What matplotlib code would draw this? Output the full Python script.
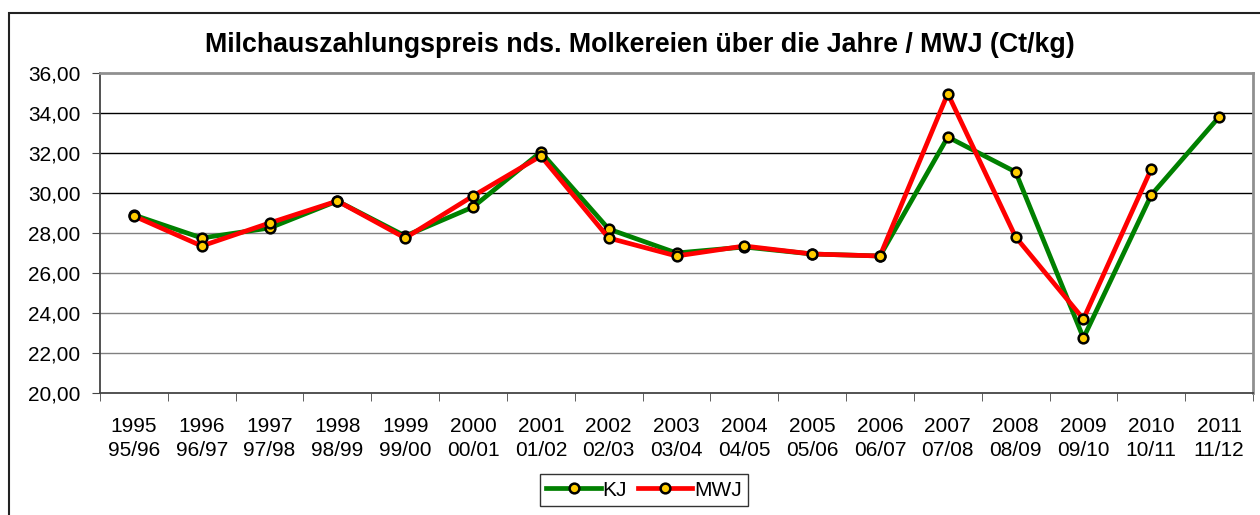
import matplotlib.pyplot as plt
import numpy as np
from matplotlib.patches import Rectangle

plt.rcParams['font.family'] = ['Liberation Sans', 'DejaVu Sans']

# ============================================================
# Daten
# ============================================================
jahre = ["1995", "1996", "1997", "1998", "1999", "2000", "2001", "2002", "2003",
         "2004", "2005", "2006", "2007", "2008", "2009", "2010", "2011"]
mwj_jahre = ["95/96", "96/97", "97/98", "98/99", "99/00", "00/01", "01/02", "02/03",
             "03/04", "04/05", "05/06", "06/07", "07/08", "08/09", "09/10", "10/11", "11/12"]

kj = [28.90, 27.75, 28.25, 29.60, 27.85, 29.30, 32.05, 28.20, 27.00,
      27.30, 26.95, 26.85, 32.80, 31.05, 22.75, 29.90, 33.80]
mwj = [28.85, 27.35, 28.50, 29.60, 27.75, 29.85, 31.85, 27.75, 26.85,
       27.35, 26.95, 26.85, 34.97, 27.80, 23.70, 31.20, np.nan]

x = np.arange(len(jahre))
xlabels = [f"{a}\n{b}" for a, b in zip(jahre, mwj_jahre)]

# ============================================================
# Plot
# ============================================================
fig = plt.figure(figsize=(12.6, 5.15), dpi=100)
ax = fig.add_axes([100 / 1260, 1 - 393 / 515, 1153 / 1260, 320 / 515])

# Rahmen um die ganze Grafik (nur links/oben sichtbar)
fig.patches.append(Rectangle((9 / 1260, -0.1), 1.2, 1.1 - 13 / 515,
                             transform=fig.transFigure, fill=False,
                             edgecolor='#222222', linewidth=1.5))

mk = dict(marker='o', markersize=7, markerfacecolor='#FFCC00',
          markeredgecolor='black', markeredgewidth=1.8, linewidth=3.4)
ax.plot(x, kj, color='#008000', label='KJ', **mk)
ax.plot(x, mwj, color='#FF0000', label='MWJ', **mk)

ax.set_xlim(-0.5, len(jahre) - 0.5)
ax.set_ylim(20, 36)
ax.set_yticks(np.arange(20, 37, 2))
ax.set_yticklabels([f"{v:.2f}".replace(".", ",") for v in np.arange(20, 37, 2)])
ax.set_xticks(x)
ax.set_xticklabels(xlabels, linespacing=1.35)
ax.set_xticks(np.arange(-0.5, len(jahre), 1), minor=True)

ax.tick_params(axis='x', which='major', length=0, pad=17, labelsize=15)
ax.tick_params(axis='x', which='minor', length=6, direction='out', color='#444444')
ax.tick_params(axis='y', length=6, direction='out', pad=8, labelsize=15, color='#444444')

# Gitternetz
ax.set_axisbelow(True)
ax.yaxis.grid(True, color='black', linewidth=1)
for v, gl in zip(ax.get_yticks(), ax.get_ygridlines()):
    if v < 30:
        gl.set_color('#808080')
    if v in (20, 36):
        gl.set_visible(False)

for side in ['top', 'right']:
    ax.spines[side].set_color('#909090')
    ax.spines[side].set_linewidth(2)
for side in ['left', 'bottom']:
    ax.spines[side].set_color('#444444')
    ax.spines[side].set_linewidth(1.3)

fig.text(0.508, 1 - 45 / 515, "Milchauszahlungspreis nds. Molkereien über die Jahre / MWJ (Ct/kg)",
         ha='center', va='center', fontsize=19.3, fontweight='bold')

leg = fig.legend(loc='center', bbox_to_anchor=(644 / 1260, 1 - 490 / 515), ncol=2,
                 fontsize=15, frameon=True, fancybox=False, handlelength=2.6,
                 handletextpad=0.1, columnspacing=0.5, borderpad=0.3)
leg.get_frame().set_edgecolor('black')
leg.get_frame().set_linewidth(1)

fig.savefig("out.png", dpi=100)
